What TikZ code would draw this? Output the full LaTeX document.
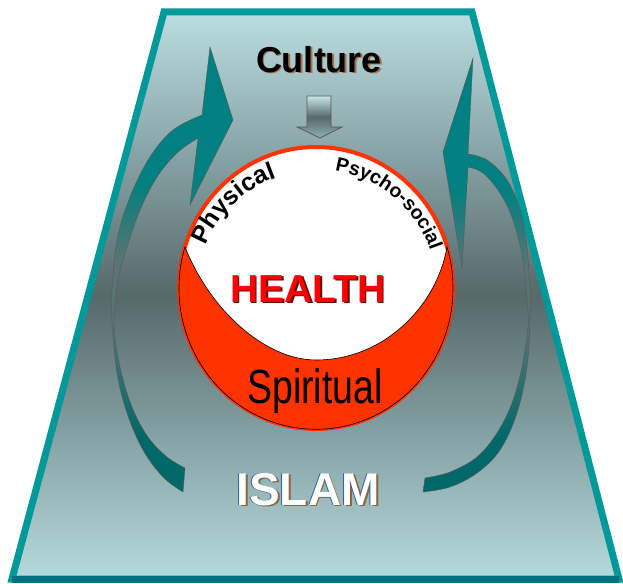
\documentclass[tikz,border=0pt]{standalone}
\usepackage{fontspec}
\setmainfont{Liberation Sans}
\usepackage{graphicx}
\usetikzlibrary{decorations.text}
\definecolor{bord}{HTML}{009999}
\definecolor{bordDark}{HTML}{00707C}
\definecolor{bgTop}{HTML}{BADEE1}
\definecolor{bgMid}{HTML}{56696B}
\definecolor{bgBot}{HTML}{B6DBDD}
\definecolor{arTop}{HTML}{008080}
\definecolor{arMid}{HTML}{5A7474}
\definecolor{arBot}{HTML}{006868}
\definecolor{ringOrange}{HTML}{FF3300}
\definecolor{healthRed}{HTML}{FF0000}
\definecolor{healthShadow}{HTML}{5A1010}
\definecolor{cultShadow}{HTML}{A07050}
\definecolor{islamBlue}{HTML}{2A5FA8}
\definecolor{islamBrown}{HTML}{8A6540}
\pgfdeclareverticalshading{arrowshade}{100bp}{color(0bp)=(arBot); color(31bp)=(arBot); color(44bp)=(arMid); color(51bp)=(arMid); color(60bp)=(arTop); color(100bp)=(arTop)}
\tikzset{
  bigarrow/.style={shading=arrowshade, draw=gray!70!black, line width=0.4},
  downarrow/.style={top color=bgTop!80!white, bottom color=bgTop!60!bgMid, middle color=bgMid, draw=black!65, line width=0.8},
  curvetext/.style={decorate, decoration={text along path, text align=left, text={#1}}}
}
\begin{document}
\begin{tikzpicture}[x=1pt,y=1pt]
\useasboundingbox (0,0) rectangle (623,-583);
\fill[white] (0,0) rectangle (623,-583);
% trapezoid background
\path[top color=bgTop, bottom color=bgBot, middle color=bgMid]
  (164,-12) -- (472,-12) -- (619,-579) -- (12,-579) -- cycle;
\draw[bord, line width=7, line join=miter]
  (164,-12) -- (472,-12) -- (619,-579) -- (12,-579) -- cycle;
\draw[bordDark, line width=7] (12,-579) -- (619,-579);

% left curved arrow
\path[bigarrow] (202,-115) -- (210,-47) -- (233,-120) -- (190,-205) -- (198,-138)
  -- plot[smooth, tension=0.6] coordinates {(198,-138) (177,-153) (157,-177) (140,-210) (127,-247) (118,-280) (114,-323) (120,-367) (132,-407) (148,-437) (167,-457) (185,-468)}
  -- (183,-492)
  -- plot[smooth, tension=0.6] coordinates {(183,-492) (163,-477) (143,-450) (127,-413) (117,-373) (112,-323) (112,-290) (117,-240) (130,-197) (150,-157) (173,-130) (202,-115)}
  -- cycle;

% right curved arrow
\path[bigarrow] (468,-154) -- (473,-58) -- (443,-152) -- (462,-268) -- (468,-167)
  -- plot[smooth, tension=0.6] coordinates {(468,-167) (483,-173) (500,-193) (513,-220) (523,-260) (528,-310) (528,-327) (522,-367) (512,-403) (497,-433) (477,-457) (450,-472) (425,-478)}
  -- (423,-492)
  -- plot[smooth, tension=0.6] coordinates {(423,-492) (450,-487) (477,-473) (500,-450) (517,-413) (527,-367) (530,-320) (530,-293) (527,-247) (520,-210) (507,-180) (487,-160) (468,-154)}
  -- cycle;

% down arrow
\path[downarrow] (307,-96) -- (331,-96) -- (331,-127) -- (342,-127) -- (320,-138) -- (297,-127) -- (307,-127) -- cycle;

% health circle
\draw[ringOrange, line width=4, fill=white] (316,-288) ellipse [x radius=137, y radius=141];
\filldraw[fill=ringOrange, draw=black, line width=0.6]
  (185,-247) arc[start angle=163, end angle=377, x radius=137, y radius=141]
  .. controls (437,-305) and (385,-360) .. (316,-360)
  .. controls (265,-360) and (210,-310) .. (185,-247) -- cycle;

% curved labels
\path[curvetext={|\fontsize{25}{25}\selectfont\bfseries|Physical}]
  (316,-290) ++(158:119) arc[start angle=158, end angle=90, radius=119];
\path[curvetext={|\fontsize{19.5}{19.5}\selectfont\bfseries|Psycho-social}]
  (316,-290) ++(81:121) arc[start angle=81, end angle=0, radius=121];

% texts
\node[anchor=base, text=cultShadow, inner sep=0] (cultureS) at (320.5,-74) {\fontsize{36}{36}\selectfont\bfseries Culture};
\node[anchor=base, text=black, inner sep=0] (culture) at (319,-73) {\fontsize{36}{36}\selectfont\bfseries Culture};

\node[anchor=base, text=healthShadow, inner sep=0] (healthS) at (309.5,-303.5) {\fontsize{39}{39}\selectfont\bfseries HEALTH};
\node[anchor=base, text=healthRed, inner sep=0] (health) at (308,-302) {\fontsize{39}{39}\selectfont\bfseries HEALTH};

\node[anchor=base, inner sep=0] (spiritual) at (315,-403) {\scalebox{0.78}[1]{\fontsize{48}{48}\selectfont Spiritual}};

\node[anchor=base, text=islamBrown, inner sep=0] (islamS) at (309.8,-506.5) {\fontsize{46}{46}\selectfont\bfseries ISLAM};
\node[anchor=base, text=islamBlue, inner sep=0] (islamB) at (307,-505) {\fontsize{46}{46}\selectfont\bfseries ISLAM};
\node[anchor=base, text=white, inner sep=0] (islam) at (308,-505) {\fontsize{46}{46}\selectfont\bfseries ISLAM};
\end{tikzpicture}
\end{document}
